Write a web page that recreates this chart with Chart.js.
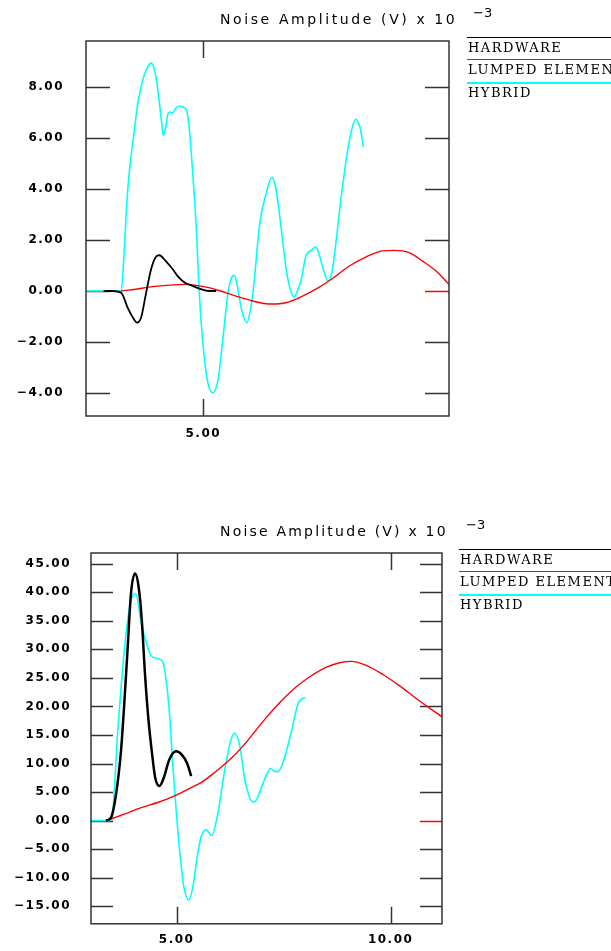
<!DOCTYPE html>
<html>
<head>
<meta charset="utf-8">
<script src="https://cdn.jsdelivr.net/npm/chart.js@4/dist/chart.umd.min.js"></script>
<style>
  html, body { margin: 0; padding: 0; background: #fff; width: 611px; height: 951px; overflow: hidden; position: relative; }
  canvas { position: absolute; left: 0; }
  .ttl { position: absolute; font-family: "DejaVu Sans"; font-size: 14px; line-height: 16px; white-space: nowrap; color: #000; }
  .sup { position: absolute; font-family: "DejaVu Sans"; font-size: 13px; line-height: 14px; white-space: nowrap; color: #000; }
  .legtxt { position: absolute; font-family: "DejaVu Serif"; font-size: 13px; line-height: 16px; letter-spacing: 1.5px; white-space: nowrap; color: #000; }
  .legline { position: absolute; height: 0; width: 200px; }
</style>
</head>
<body>
<canvas id="top-chart" width="611" height="475" style="top:0px"></canvas>
<canvas id="bot-chart" width="611" height="476" style="top:475px"></canvas>

<script>
// series names + colours (legend order)
var seriesNames = ['HARDWARE', 'LUMPED ELEMENT', 'HYBRID'];
var seriesColors = ['#000000', '#ff0000', '#00ffff'];
var titleText = 'Noise Amplitude (V) x 10';
var titleExp = '\u22123';

// ---- top plot ----
var topHwX = [3.30, 3.45, 3.60, 3.71, 3.80, 3.87, 3.94, 4.02, 4.11, 4.19, 4.25, 4.36, 4.48, 4.56, 4.68, 4.82, 4.96, 5.10, 5.22];
var topHwY = [0, 0, -0.07, -0.65, -1.04, -1.24, -1.04, -0.13, 0.85, 1.33, 1.40, 1.17, 0.85, 0.59, 0.33, 0.20, 0.07, 0.0, 0.0];

var topLumpX = [3.60, 3.85, 4.14, 4.42, 4.70, 4.99, 5.27, 5.56, 5.84, 6.07, 6.17, 6.41, 6.64, 6.92, 7.21, 7.49, 7.77, 8.06, 8.26, 8.51, 8.74, 8.97, 9.19];
var topLumpY = [0, 0.07, 0.17, 0.23, 0.26, 0.18, 0.02, -0.2, -0.39, -0.50, -0.51, -0.46, -0.26, 0.07, 0.50, 0.98, 1.33, 1.57, 1.59, 1.50, 1.17, 0.78, 0.26];

var topHybX = [3.0, 3.60, 3.65, 3.70, 3.75, 3.82, 3.88, 3.94, 4.00, 4.06, 4.11, 4.15, 4.19, 4.25, 4.29, 4.32, 4.36, 4.40, 4.44, 4.48, 4.53, 4.59, 4.65, 4.71,
  4.76, 4.82, 4.88, 4.93, 4.99, 5.07, 5.16, 5.25, 5.33, 5.42, 5.47, 5.53, 5.58, 5.65, 5.74, 5.80, 5.86, 5.96, 6.07, 6.17, 6.23, 6.30, 6.41, 6.48, 6.55,
  6.62, 6.67, 6.75, 6.85, 6.92, 6.98, 7.04, 7.13, 7.18, 7.23, 7.35, 7.46, 7.54, 7.60, 7.65, 7.68, 7.73];
var topHybY = [0, 0, 1.5, 3.6, 4.9, 6.2, 7.3, 8.0, 8.5, 8.8, 8.92, 8.8, 8.4, 7.4, 6.6, 6.1, 6.4, 6.95, 7.0, 6.98, 7.15, 7.24, 7.2, 7.1,
  6.4, 4.6, 2.5, 0.0, -1.96, -3.5, -3.98, -3.5, -1.96, -0.1, 0.45, 0.61, 0.2, -0.7, -1.24, -0.8, 0.2, 2.6, 3.8, 4.45, 4.1, 3.0, 0.91, 0.1, -0.23,
  0.1, 0.45, 1.37, 1.6, 1.73, 1.4, 0.91, 0.39, 0.6, 1.3, 3.65, 5.48, 6.4, 6.72, 6.55, 6.33, 5.64];

// ---- bottom plot ----
var botHwX = [3.35, 3.47, 3.585, 3.70, 3.78, 3.86, 3.935, 4.03, 4.11, 4.185, 4.263, 4.341, 4.42, 4.50, 4.60, 4.70, 4.83, 4.99, 5.12, 5.24, 5.34];
var botHwY = [0, 0.58, 4.63, 12.15, 20.8, 30.7, 39.9, 43.3, 41.1, 35.3, 25.5, 17.8, 12.15, 7.52, 6.08, 7.52, 10.71, 12.15, 11.57, 10.13, 7.81];

var botLumpX = [3.35, 3.78, 4.17, 4.56, 4.95, 5.26, 5.57, 5.88, 6.20, 6.51, 6.86, 7.09, 7.40, 7.79, 8.11, 8.50, 8.81, 9.08, 9.43, 9.82, 10.21, 10.60, 10.91, 11.2];
var botLumpY = [0, 1.16, 2.3, 3.18, 4.34, 5.5, 6.66, 8.39, 10.4, 12.7, 15.9, 18.0, 20.6, 23.4, 25.2, 26.9, 27.66, 27.9, 27.2, 25.6, 23.6, 21.4, 19.7, 18.2];

var botHybX = [3.0, 3.43, 3.51, 3.62, 3.74, 3.86, 3.97, 4.05, 4.17, 4.29, 4.40, 4.56, 4.68, 4.75, 4.83, 4.91, 4.99, 5.07, 5.17, 5.28, 5.38, 5.48,
  5.57, 5.69, 5.82, 5.96, 6.12, 6.26, 6.35, 6.47, 6.60, 6.78, 6.86, 7.01, 7.09, 7.19, 7.28, 7.37, 7.52, 7.68, 7.83, 7.93, 8.01];
var botHybY = [0, 0, 1.74, 15.05, 26.6, 35.3, 39.4, 39.7, 34.7, 31.25, 28.9, 28.4, 27.8, 24.9, 19.1, 9.84, 1.74, -5.2, -11.6, -13.9, -11.6, -6.4,
  -2.9, -1.62, -2.6, 1.16, 8.68, 13.9, 15.3, 13.3, 6.94, 3.3, 3.59, 6.37, 7.9, 9.14, 8.7, 8.56, 11.0, 15.6, 20.3, 21.4, 21.5];

// axis ranges / tick steps
var topXRange = [3.0, 9.19], topYRange = [-4.892, 9.785], topYStep = 2;
var botXRange = [3.0, 11.2], botYRange = [-18.06, 46.875], botYStep = 5;
var xStep = 5;

function zip(xs, ys) {
  return xs.map(function (x, i) { return { x: x, y: ys[i] }; });
}

function fmt(v) {
  var s = Math.abs(v).toFixed(2);
  return v < 0 ? '\u2212' + s : s;
}

// ticks only on whole multiples of the step, min/max not labelled
function stepTicks(step) {
  return function (scale) {
    var out = [];
    for (var v = Math.ceil(scale.min / step - 1e-9) * step; v <= scale.max + 1e-9; v += step) {
      out.push({ value: Math.round(v * 1e6) / 1e6 });
    }
    scale.ticks = out;
  };
}

// the box and the inward tick marks
var frame = {
  id: 'frame',
  beforeDraw: function (chart) {
    chart.ctx.letterSpacing = '1.5px';
  },
  beforeDatasetsDraw: function (chart, args, o) {
    var ctx = chart.ctx, a = chart.chartArea;
    var xs = chart.scales.x, ys = chart.scales.y;
    ctx.save();
    ctx.lineWidth = 1.5;
    ys.ticks.forEach(function (t) {
      var y = Math.round(ys.getPixelForValue(t.value)) + 0.5;
      ctx.strokeStyle = '#333';
      ctx.beginPath(); ctx.moveTo(a.left, y); ctx.lineTo(a.left + o.yLen, y); ctx.stroke();
      ctx.strokeStyle = t.value === 0 ? '#ff0000' : '#333';
      ctx.beginPath(); ctx.moveTo(a.right - o.yLen, y); ctx.lineTo(a.right, y); ctx.stroke();
    });
    ctx.strokeStyle = '#333';
    xs.ticks.forEach(function (t) {
      var x = Math.round(xs.getPixelForValue(t.value)) + 0.5;
      ctx.beginPath(); ctx.moveTo(x, a.top); ctx.lineTo(x, a.top + o.xLen); ctx.stroke();
      ctx.beginPath(); ctx.moveTo(x, a.bottom - o.xLen); ctx.lineTo(x, a.bottom); ctx.stroke();
    });
    ctx.restore();
  },
  afterDatasetsDraw: function (chart) {
    var ctx = chart.ctx, a = chart.chartArea;
    ctx.save();
    ctx.strokeStyle = '#333';
    ctx.lineWidth = 1.5;
    ctx.strokeRect(a.left, a.top, a.right - a.left, a.bottom - a.top);
    ctx.restore();
  }
};

function makeChart(id, g) {
  var ds = function (i, xs, ys, w) {
    return {
      label: seriesNames[i],
      data: zip(xs, ys),
      borderColor: seriesColors[i],
      borderWidth: w,
      pointRadius: 0,
      fill: false,
      cubicInterpolationMode: 'monotone',
      order: i
    };
  };
  var tickFont = { family: 'DejaVu Sans', size: 12, weight: 'bold' };
  return new Chart(document.getElementById(id), {
    type: 'line',
    data: {
      datasets: [
        ds(0, g.hwX, g.hwY, g.hwW),
        ds(1, g.lumpX, g.lumpY, 1.4),
        ds(2, g.hybX, g.hybY, 1.6)
      ]
    },
    options: {
      responsive: false,
      animation: false,
      devicePixelRatio: 1,
      layout: { padding: { left: 0, top: g.top, right: 611 - g.right, bottom: 0 } },
      plugins: {
        legend: { display: false },
        title: { display: false },
        tooltip: { enabled: false },
        frame: { yLen: g.yLen, xLen: 17 }
      },
      scales: {
        x: {
          type: 'linear', min: g.xr[0], max: g.xr[1],
          grid: { display: false, drawTicks: false }, border: { display: false },
          ticks: { padding: g.xPad, maxRotation: 0, color: '#000', font: tickFont, callback: fmt },
          afterBuildTicks: stepTicks(xStep),
          afterFit: function (s) { s.height = g.h - g.bottom; }
        },
        y: {
          type: 'linear', min: g.yr[0], max: g.yr[1],
          grid: { display: false, drawTicks: false }, border: { display: false },
          ticks: { padding: g.yPad, color: '#000', font: tickFont, callback: fmt },
          afterBuildTicks: stepTicks(g.yStep),
          afterFit: function (s) { s.width = g.left; }
        }
      }
    },
    plugins: [frame]
  });
}

makeChart('top-chart', {
  hwX: topHwX, hwY: topHwY, hwW: 1.8, lumpX: topLumpX, lumpY: topLumpY, hybX: topHybX, hybY: topHybY,
  xr: topXRange, yr: topYRange, yStep: topYStep,
  h: 475, left: 86, right: 449, top: 41, bottom: 416, yLen: 24, yPad: 22, xPad: 11
});
makeChart('bot-chart', {
  hwX: botHwX, hwY: botHwY, hwW: 2.5, lumpX: botLumpX, lumpY: botLumpY, hybX: botHybX, hybY: botHybY,
  xr: botXRange, yr: botYRange, yStep: botYStep,
  h: 476, left: 91, right: 442, top: 78, bottom: 452, yLen: 22, yPad: 20, xPad: 9
});

// title and legend beside each plot
function addHeader(tx, ty, sx, sy, spacing, lx, lineY, textY, step) {
  var t = document.createElement('div');
  t.className = 'ttl';
  t.style.left = tx + 'px'; t.style.top = ty + 'px'; t.style.letterSpacing = spacing + 'px';
  t.textContent = titleText;
  document.body.appendChild(t);
  var s = document.createElement('div');
  s.className = 'sup';
  s.style.left = sx + 'px'; s.style.top = sy + 'px';
  s.textContent = titleExp;
  document.body.appendChild(s);
  seriesNames.forEach(function (name, i) {
    var l = document.createElement('div');
    l.className = 'legline';
    l.style.left = lx + 'px';
    l.style.top = (lineY + i * step) + 'px';
    l.style.borderTop = (i === 2 ? 2 : i === 1 ? 1.5 : 1) + 'px solid ' + seriesColors[i];
    document.body.appendChild(l);
    var d = document.createElement('div');
    d.className = 'legtxt';
    d.style.left = (lx + 1) + 'px';
    d.style.top = (textY + i * step) + 'px';
    d.textContent = name;
    document.body.appendChild(d);
  });
}
addHeader(220, 11, 473, 6, 2.6, 467, 37, 40, 22.4);
addHeader(220, 523, 466, 518, 2.2, 459, 549, 552, 22.4);
</script>
</body>
</html>
